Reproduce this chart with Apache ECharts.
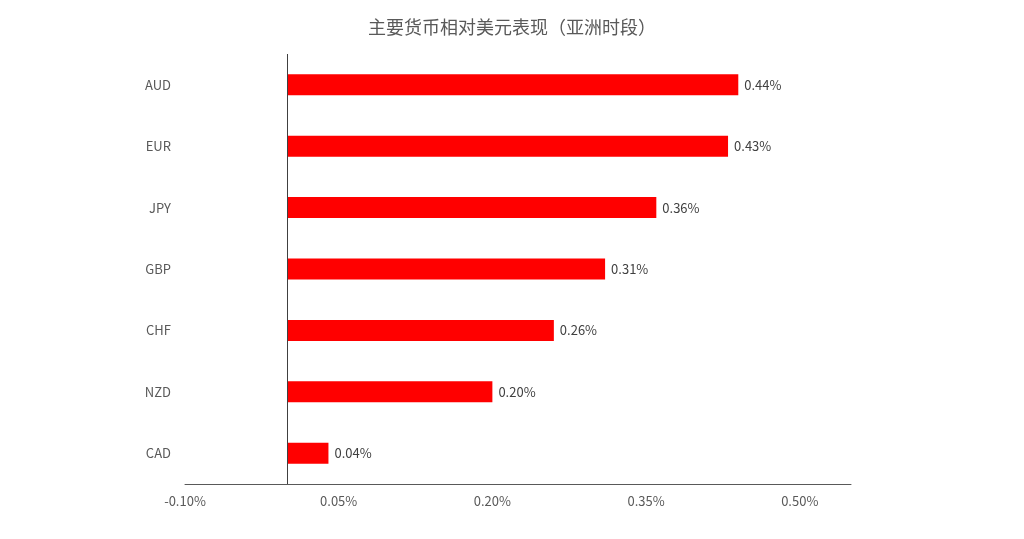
<!DOCTYPE html>
<html><head><meta charset="utf-8">
<script src="https://cdn.jsdelivr.net/npm/echarts@6/dist/echarts.min.js"></script>
<style>html,body{margin:0;padding:0;background:#fff}#c{width:1024px;height:539px}</style>
</head><body><div id="c"></div>
<script>
const categories = ['AUD','EUR','JPY','GBP','CHF','NZD','CAD'];
const values = [0.44, 0.43, 0.36, 0.31, 0.26, 0.20, 0.04];
const tickValues = [-0.10, 0.05, 0.20, 0.35, 0.50];
const titleText = '主要货币相对美元表现（亚洲时段）';

const chart = echarts.init(document.getElementById('c'));
const font = '"Noto Sans CJK SC", "Open Sans", sans-serif';
chart.setOption({
  animation: false,
  title: {
    text: titleText, left: 'center', top: 13,
    textStyle: { fontFamily: font, fontSize: 18, fontWeight: 'normal', color: '#595959' }
  },
  grid: { left: 185, right: 173, top: 54, bottom: 55, containLabel: false },
  xAxis: {
    type: 'value', min: -0.10, max: 0.55,
    axisLine: { show: true, onZero: false, lineStyle: { color: '#595959', width: 1 } },
    axisTick: { show: false },
    splitLine: { show: false },
    axisLabel: {
      customValues: tickValues,
      formatter: v => v.toFixed(2) + '%',
      color: '#595959', fontFamily: font, fontSize: 13, margin: 11,
      showMinLabel: true, showMaxLabel: true
    }
  },
  yAxis: {
    type: 'category', data: categories, inverse: true,
    axisLine: { show: false }, axisTick: { show: false },
    axisLabel: { color: '#595959', fontFamily: font, fontSize: 13, margin: 14 }
  },
  series: [{
    type: 'bar', data: values, barWidth: 21,
    itemStyle: { color: '#FF0000' },
    label: {
      show: true, position: 'right', distance: 6,
      formatter: p => p.value.toFixed(2) + '%',
      color: '#404040', fontFamily: font, fontSize: 13
    },
    markLine: {
      silent: true, symbol: 'none', animation: false,
      label: { show: false },
      lineStyle: { color: '#404040', width: 1, type: 'solid' },
      data: [{ xAxis: 0 }]
    }
  }]
});
</script></body></html>
